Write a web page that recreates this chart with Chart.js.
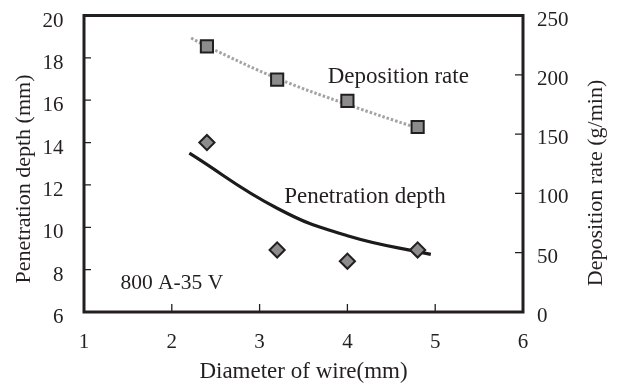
<!DOCTYPE html>
<html>
<head>
<meta charset="utf-8">
<script src="https://cdn.jsdelivr.net/npm/chart.js@4/dist/chart.umd.min.js"></script>
<style>
  html, body { margin: 0; padding: 0; background: #ffffff; }
  #wrap { width: 618px; height: 385px; }
</style>
</head>
<body>
<div id="wrap"><canvas id="c" width="618" height="385"></canvas></div>
<script>
// ---- data ----
const wireDiameters    = [2.4, 3.2, 4.0, 4.8];          // mm
const penetrationDepth = [14.0, 8.93, 8.4, 8.93];       // mm (left axis)
const depositionRate   = [224, 196, 178, 156];          // g/min (right axis)

// trend curves as drawn in the figure
const penTrendX = [2.2, 3.2, 4.0, 4.95];
const penTrendY = [13.5, 10.9, 9.6, 8.72];
const depTrendX = [2.22, 2.4, 3.2, 4.0, 4.8];
const depTrendY = [231, 224, 197, 175, 155];

// tick labels / axis ranges
const xTicks  = [1, 2, 3, 4, 5, 6];
const yTicks  = [6, 8, 10, 12, 14, 16, 18, 20];
const y2Ticks = [0, 50, 100, 150, 200, 250];

const INK = '#231f20';
const SERIF = "'Liberation Serif', 'Times New Roman', serif";

function pts(xs, ys) { return xs.map((x, i) => ({ x: x, y: ys[i] })); }

function vText(ctx, text, x, y) {
  ctx.save();
  ctx.translate(x, y);
  ctx.rotate(-Math.PI / 2);
  ctx.fillText(text, 0, 0);
  ctx.restore();
}

const frame = {
  id: 'frame',
  afterDatasetsDraw(chart) {
    const { ctx, chartArea: a, scales } = chart;
    ctx.save();
    // inward tick marks
    ctx.strokeStyle = INK;
    ctx.lineWidth = 1.3;
    ctx.beginPath();
    yTicks.forEach(v => {
      const p = scales.y.getPixelForValue(v);
      ctx.moveTo(a.left, p); ctx.lineTo(a.left + 7, p);
    });
    y2Ticks.forEach(v => {
      const p = scales.y2.getPixelForValue(v);
      ctx.moveTo(a.right, p); ctx.lineTo(a.right - 8, p);
    });
    xTicks.forEach(v => {
      const p = scales.x.getPixelForValue(v);
      ctx.moveTo(p, a.bottom); ctx.lineTo(p, a.bottom - 8);
    });
    ctx.stroke();
    // heavy frame
    ctx.lineWidth = 3;
    ctx.strokeRect(a.left, a.top, a.right - a.left, a.bottom - a.top);

    // in-plot annotations
    ctx.fillStyle = INK;
    ctx.textBaseline = 'alphabetic';
    ctx.textAlign = 'center';
    ctx.font = '23px ' + SERIF;
    ctx.fillText('Deposition rate', scales.x.getPixelForValue(4.58), scales.y.getPixelForValue(16.8));
    ctx.fillText('Penetration depth', scales.x.getPixelForValue(4.2), scales.y.getPixelForValue(11.15));
    ctx.font = '21.5px ' + SERIF;
    ctx.fillText('800 A-35 V', scales.x.getPixelForValue(2.0), scales.y.getPixelForValue(7.09));

    // vertical axis titles (both read bottom-to-top)
    ctx.font = '22px ' + SERIF;
    ctx.textBaseline = 'middle';
    vText(ctx, 'Penetration depth (mm)', 24, 179);
    vText(ctx, 'Deposition rate (g/min)', 596.5, 183);
    ctx.restore();
  }
};

function fixVertical(w) {
  return s => { s.width = w; s.paddingTop = 0; s.paddingBottom = 0; };
}

new Chart(document.getElementById('c'), {
  type: 'scatter',
  data: {
    datasets: [
      {
        label: 'Deposition rate',
        data: pts(wireDiameters, depositionRate),
        yAxisID: 'y2',
        pointStyle: 'rect',
        pointRadius: 8.6,
        backgroundColor: '#8c8c8c',
        borderColor: INK,
        borderWidth: 2,
        showLine: false
      },
      {
        label: 'Penetration depth',
        data: pts(wireDiameters, penetrationDepth),
        yAxisID: 'y',
        pointStyle: 'rectRot',
        pointRadius: 7.6,
        backgroundColor: '#8c8c8c',
        borderColor: INK,
        borderWidth: 2,
        showLine: false
      },
      {
        label: 'Deposition trend',
        data: pts(depTrendX, depTrendY),
        yAxisID: 'y2',
        showLine: true,
        pointRadius: 0,
        borderColor: '#a3a3a3',
        borderWidth: 3,
        borderDash: [2.5, 2],
        tension: 0.4,
        fill: false
      },
      {
        label: 'Penetration trend',
        data: pts(penTrendX, penTrendY),
        yAxisID: 'y',
        showLine: true,
        pointRadius: 0,
        borderColor: '#1c1a1b',
        borderWidth: 3.2,
        tension: 0.45,
        fill: false
      }
    ]
  },
  options: {
    responsive: false,
    animation: false,
    events: [],
    layout: { padding: { top: 15.5, left: 0, right: 0, bottom: 0 } },
    plugins: { legend: { display: false }, tooltip: { enabled: false } },
    scales: {
      x: {
        type: 'linear',
        min: 1, max: 6,
        afterBuildTicks: s => { s.ticks = xTicks.map(v => ({ value: v })); },
        afterFit: s => { s.height = 73; s.paddingLeft = 0; s.paddingRight = 0; },
        grid: { display: false, drawTicks: false },
        border: { display: false },
        ticks: { color: INK, font: { family: SERIF, size: 21 }, padding: 18, maxRotation: 0 },
        title: {
          display: true, text: 'Diameter of wire(mm)', color: INK,
          font: { family: SERIF, size: 23, lineHeight: 1.1 }, padding: { top: 0, bottom: 0 }
        }
      },
      y: {
        position: 'left',
        min: 6, max: 20,
        afterBuildTicks: s => { s.ticks = yTicks.map(v => ({ value: v })); },
        afterFit: fixVertical(84),
        grid: { display: false, drawTicks: false },
        border: { display: false },
        ticks: { color: INK, font: { family: SERIF, size: 21 }, padding: 20.5, labelOffset: 5.5 }
      },
      y2: {
        position: 'right',
        min: 0, max: 250,
        afterBuildTicks: s => { s.ticks = y2Ticks.map(v => ({ value: v })); },
        afterFit: fixVertical(95),
        grid: { display: false, drawTicks: false },
        border: { display: false },
        ticks: { color: INK, font: { family: SERIF, size: 21 }, padding: 14, labelOffset: 4.5 }
      }
    }
  },
  plugins: [frame]
});
</script>
</body>
</html>
